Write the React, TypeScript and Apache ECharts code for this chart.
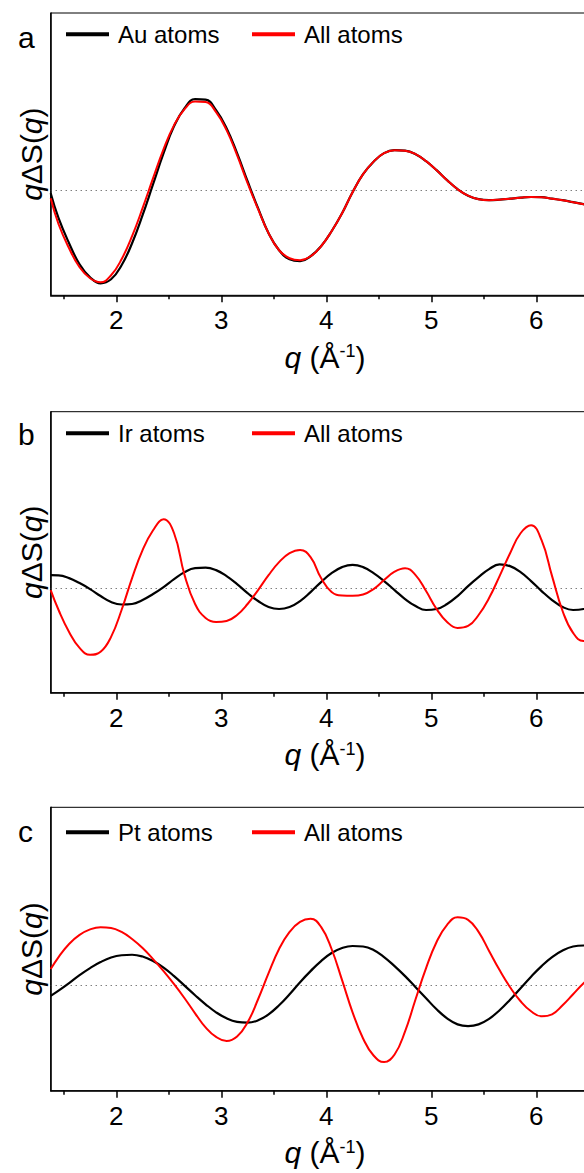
import React, { useEffect, useRef } from "react";
import * as echarts from "echarts";

// ---------- tick values ----------
const majorTicks = [2, 3, 4, 5, 6];
const minorTicks = [1.5, 2.5, 3.5, 4.5, 5.5, 6.5];
const qMin = 1.375;
const qMax = 6.6;
const yMin = -1.05;
const yMax = 1.77;

const panelLetters = ["a", "b", "c"];
const elementNames = ["Au atoms", "Ir atoms", "Pt atoms"];
const allName = "All atoms";

// ---------- sampled q values (shared by all curves) ----------
const qValues = [1.375, 1.45, 1.55, 1.65, 1.75, 1.85, 1.95, 2.05, 2.15, 2.25, 2.35, 2.45, 2.55, 2.65, 2.75, 2.85, 2.95, 3.05, 3.15, 3.25, 3.35, 3.45, 3.55, 3.65, 3.75, 3.85, 3.95, 4.05, 4.15, 4.25, 4.35, 4.45, 4.55, 4.65, 4.75, 4.85, 4.95, 5.05, 5.15, 5.25, 5.35, 5.45, 5.55, 5.65, 5.75, 5.85, 5.95, 6.05, 6.15, 6.25, 6.35, 6.45, 6.55, 6.65];

// ---------- panel a ----------
const aAuVal = [-0.03, -0.28, -0.53, -0.74, -0.87, -0.93, -0.89, -0.75, -0.53, -0.25, 0.06, 0.37, 0.64, 0.82, 0.91, 0.905, 0.8, 0.62, 0.37, 0.09, -0.18, -0.43, -0.6, -0.69, -0.71, -0.66, -0.56, -0.41, -0.23, -0.02, 0.16, 0.285, 0.37, 0.4, 0.395, 0.36, 0.29, 0.2, 0.1, 0.01, -0.055, -0.09, -0.1, -0.095, -0.085, -0.075, -0.068, -0.07, -0.085, -0.1, -0.12, -0.14, -0.16, -0.18];
const aAllVal = [-0.08, -0.34, -0.58, -0.77, -0.88, -0.92, -0.85, -0.69, -0.46, -0.18, 0.12, 0.41, 0.65, 0.81, 0.885, 0.88, 0.78, 0.6, 0.35, 0.07, -0.19, -0.43, -0.6, -0.68, -0.7, -0.66, -0.56, -0.41, -0.23, -0.02, 0.16, 0.285, 0.37, 0.4, 0.395, 0.36, 0.29, 0.2, 0.1, 0.01, -0.055, -0.09, -0.1, -0.095, -0.085, -0.075, -0.068, -0.07, -0.085, -0.1, -0.12, -0.14, -0.16, -0.18];

// ---------- panel b ----------
const bIrVal = [0.13, 0.128, 0.1, 0.05, -0.01, -0.08, -0.14, -0.165, -0.16, -0.12, -0.06, 0.01, 0.09, 0.16, 0.2, 0.205, 0.18, 0.12, 0.04, -0.05, -0.13, -0.19, -0.21, -0.19, -0.13, -0.04, 0.06, 0.15, 0.21, 0.233, 0.21, 0.15, 0.07, -0.02, -0.11, -0.18, -0.22, -0.21, -0.16, -0.08, 0.02, 0.11, 0.19, 0.237, 0.22, 0.16, 0.07, -0.03, -0.12, -0.19, -0.22, -0.21, -0.16, -0.08];
const bAllVal = [-0.02, -0.22, -0.44, -0.6, -0.67, -0.64, -0.49, -0.22, 0.1, 0.38, 0.58, 0.69, 0.55, 0.13, -0.16, -0.3, -0.34, -0.33, -0.27, -0.16, -0.02, 0.13, 0.26, 0.35, 0.383, 0.31, 0.1, -0.04, -0.075, -0.078, -0.065, -0.01, 0.08, 0.165, 0.2, 0.13, -0.03, -0.21, -0.34, -0.4, -0.38, -0.27, -0.1, 0.12, 0.35, 0.55, 0.63, 0.48, 0.12, -0.23, -0.45, -0.53, -0.53, -0.5];

// ---------- panel c ----------
const cPtVal = [-0.107, -0.055, 0.02, 0.1, 0.17, 0.23, 0.275, 0.298, 0.303, 0.285, 0.24, 0.175, 0.09, -0.005, -0.1, -0.19, -0.27, -0.33, -0.365, -0.373, -0.35, -0.29, -0.2, -0.09, 0.03, 0.14, 0.24, 0.32, 0.37, 0.39, 0.385, 0.35, 0.28, 0.19, 0.09, -0.02, -0.13, -0.24, -0.33, -0.39, -0.407, -0.39, -0.335, -0.25, -0.145, -0.03, 0.085, 0.19, 0.28, 0.345, 0.385, 0.395, 0.38, 0.35];
const cAllVal = [0.16, 0.28, 0.41, 0.5, 0.555, 0.577, 0.57, 0.53, 0.46, 0.37, 0.26, 0.14, 0.01, -0.13, -0.28, -0.42, -0.515, -0.555, -0.51, -0.37, -0.14, 0.12, 0.36, 0.53, 0.63, 0.66, 0.58, 0.36, 0.05, -0.27, -0.53, -0.7, -0.765, -0.69, -0.46, -0.14, 0.17, 0.43, 0.6, 0.675, 0.65, 0.53, 0.34, 0.15, -0.02, -0.16, -0.26, -0.31, -0.29, -0.2, -0.09, 0.02, 0.11, 0.19];

const panelData = [
  [aAuVal, aAllVal],
  [bIrVal, bAllVal],
  [cPtVal, cAllVal],
];

// ---------- layout ----------
const FONT = "'Liberation Sans', Arial, sans-serif";
const gridLeft = 50.7;
const pxPerUnit = 105;
const gridTops = [13, 411.7, 807.3];
const gridHeights = [282.3, 281, 283.4];
const legendCenters = [34.3, 433.3, 832.3];
const letterYs = [40, 437, 834];

function pairs(q: number[], v: number[]) {
  return q.map((x, i) => [x, v[i]]);
}

export default function App() {
  const ref = useRef<HTMLDivElement>(null);
  useEffect(() => {
    if (!ref.current) return;
    const chart = echarts.init(ref.current, null, { renderer: "svg" });
    const grid: any[] = [];
    const xAxis: any[] = [];
    const yAxis: any[] = [];
    const series: any[] = [];
    const legend: any[] = [];
    const graphic: any[] = [];

    for (let i = 0; i < 3; i++) {
      grid.push({
        left: gridLeft,
        top: gridTops[i],
        width: (qMax - qMin) * pxPerUnit,
        height: gridHeights[i],
        show: true,
        borderColor: "#000",
        borderWidth: 1,
        backgroundColor: "transparent",
        containLabel: false,
        outerBoundsMode: "none",
      });
      xAxis.push({
        gridIndex: i,
        type: "value",
        min: qMin,
        max: qMax,
        position: "bottom",
        axisLine: { show: true, onZero: false, lineStyle: { color: "#000", width: 1.5 } },
        axisTick: { show: true, customValues: majorTicks, length: 7, lineStyle: { color: "#000", width: 1.5 } },
        axisLabel: {
          show: true,
          customValues: majorTicks,
          fontSize: 26,
          color: "#000",
          margin: 12,
          fontFamily: FONT,
        },
        splitLine: { show: false },
        name: "{i|q} (Å{s|-1})",
        nameLocation: "middle",
        nameGap: 47,
        nameTextStyle: {
          fontSize: 30,
          color: "#000",
          fontFamily: FONT,
          rich: {
            i: { fontStyle: "italic", fontSize: 30, fontFamily: FONT, color: "#000" },
            s: { fontSize: 18, fontFamily: FONT, color: "#000", verticalAlign: "top", lineHeight: 16 },
          },
        },
      });
      xAxis.push({
        gridIndex: i,
        type: "value",
        min: qMin,
        max: qMax,
        position: "bottom",
        offset: 0,
        axisLine: { show: false, onZero: false },
        axisTick: { show: true, customValues: minorTicks, length: 4, lineStyle: { color: "#000", width: 1.5 } },
        axisLabel: { show: false },
        splitLine: { show: false },
      });
      yAxis.push({
        gridIndex: i,
        type: "value",
        min: yMin,
        max: yMax,
        axisLine: { show: true, onZero: false, lineStyle: { color: "#000", width: 1.5 } },
        axisTick: { show: false },
        axisLabel: { show: false },
        splitLine: { show: false },
        name: "{i|q}ΔS({i|q})",
        nameLocation: "middle",
        nameRotate: 90,
        nameGap: 4,
        nameTextStyle: {
          fontSize: 30,
          color: "#000",
          fontFamily: FONT,
          rich: { i: { fontStyle: "italic", fontSize: 30, fontFamily: FONT, color: "#000" } },
        },
      });
      const [ev, av] = panelData[i];
      series.push({
        name: elementNames[i],
        type: "line",
        xAxisIndex: 2 * i,
        yAxisIndex: i,
        data: pairs(qValues, ev),
        smooth: 0.45,
        symbol: "none",
        showSymbol: false,
        lineStyle: { color: "#000", width: 2.2 },
        itemStyle: { color: "#000" },
        z: 2,
      });
      series.push({
        name: allName,
        type: "line",
        xAxisIndex: 2 * i,
        yAxisIndex: i,
        data: pairs(qValues, av),
        smooth: 0.45,
        symbol: "none",
        showSymbol: false,
        lineStyle: { color: "#ff0000", width: 2 },
        itemStyle: { color: "#ff0000" },
        z: 3,
        markLine: {
          silent: true,
          symbol: ["none", "none"],
          label: { show: false },
          lineStyle: { color: "#444", width: 1, type: [1, 4] },
          data: [{ yAxis: 0 }],
          z: 1,
        },
      });
      const legendBase = {
        orient: "horizontal",
        top: legendCenters[i] - 14,
        padding: 0,
        icon: "rect",
        itemWidth: 43,
        itemHeight: 4,
        selectedMode: false,
        textStyle: { fontSize: 24, color: "#000", fontFamily: FONT, lineHeight: 28, padding: [0, 0, 0, 4] },
      };
      legend.push({ ...legendBase, left: 66, data: [elementNames[i]] });
      legend.push({ ...legendBase, left: 252, data: [allName] });
      graphic.push({
        type: "text",
        left: 18,
        top: letterYs[i] - 18,
        style: { text: panelLetters[i], fontSize: 30, fontFamily: FONT, fill: "#000" },
      });
    }

    chart.setOption({
      animation: false,
      backgroundColor: "#fff",
      grid,
      xAxis,
      yAxis,
      series,
      legend,
      graphic,
    });
    return () => chart.dispose();
  }, []);
  return (
    <div
      ref={ref}
      style={{ position: "absolute", left: 0, top: 0, width: 584, height: 1173 }}
    />
  );
}
